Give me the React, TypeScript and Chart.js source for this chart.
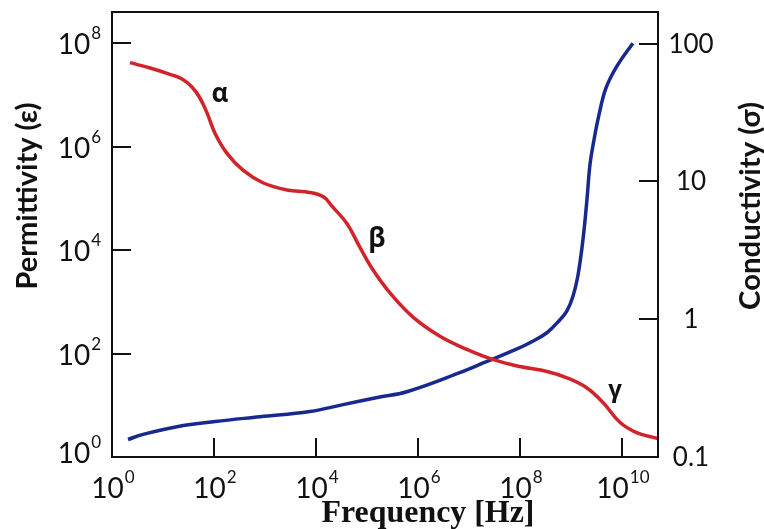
import React, { useEffect, useRef } from "react";
import { Chart, registerables } from "chart.js";

Chart.register(...registerables);

// ---- data ----
const permFreq = [2.25, 5.6, 13.7, 23.6, 37, 53, 73, 105, 180, 370, 910, 2700, 7600, 1.4e4, 2.1e4, 4.1e4, 7.2e4, 1.3e5, 2.8e5, 7.9e5, 2.7e6, 9.1e6, 3.0e7, 1e8, 3.4e8, 8.3e8, 2.0e9, 4.3e9, 9.1e9, 1.95e10, 4.1e10, 5.0e10];
const permittivity = [4.2e7, 3.3e7, 2.5e7, 2.03e7, 1.42e7, 8.7e6, 4.5e6, 1.8e6, 7.4e5, 3.5e5, 2.0e5, 1.45e5, 1.3e5, 1.07e5, 6.9e4, 3.2e4, 1.15e4, 4.2e3, 1.5e3, 510, 215, 120, 76, 56, 45, 34, 22, 11.2, 4.7, 2.95, 2.4, 2.3];

const condFreq = [2.06, 4.06, 18.8, 105, 795, 7600, 3.4e4, 1.6e5, 6.3e5, 6.6e6, 2.2e7, 7.3e7, 1.57e8, 3.38e8, 6.09e8, 8.35e8, 1.09e9, 1.37e9, 1.72e9, 2.06e9, 2.36e9, 2.83e9, 3.54e9, 4.86e9, 7.98e9, 1.64e10];
const conductivity = [0.134, 0.146, 0.166, 0.181, 0.196, 0.214, 0.24, 0.27, 0.299, 0.409, 0.492, 0.591, 0.676, 0.798, 0.992, 1.152, 1.456, 2.07, 3.77, 7.35, 13.2, 20.0, 30.3, 47.6, 68.8, 101];

const xTickExponents = [0, 2, 4, 6, 8, 10];
const leftTickExponents = [0, 2, 4, 6, 8];
const rightTickValues = [0.1, 1, 10, 100];
const rightTickLabels = ["0.1", "1", "10", "100"];

const regionLabels = ["α", "β", "γ"];
const regionFreq = [131, 1.57e5, 7.3e9];
const regionPerm = [7.3e6, 1.16e4, 14.6];

const xTitle = "Frequency [Hz]";
const leftTitle = "Permittivity (ε)";
const rightTitle = "Conductivity (σ)";

const RED = "#d2232a";
const BLUE = "#17298e";
const INK = "#111111";
const SANS = "Lato, 'Open Sans', sans-serif";
const GREEK = "'Open Sans', 'DejaVu Sans', sans-serif";

function drawPower(ctx: CanvasRenderingContext2D, exp: number, anchorX: number, baseline: number, size: number, align: "center" | "right") {
  const main = "10";
  const sup = String(exp);
  const supSize = Math.round(size * 0.62);
  ctx.textAlign = "left";
  ctx.textBaseline = "alphabetic";
  ctx.font = `${size}px ${SANS}`;
  const wMain = ctx.measureText(main).width;
  ctx.font = `${supSize}px ${SANS}`;
  const wSup = ctx.measureText(sup).width;
  const total = wMain + 1 + wSup;
  const start = align === "right" ? anchorX - total : anchorX - total / 2;
  ctx.font = `${size}px ${SANS}`;
  ctx.fillText(main, start, baseline);
  ctx.font = `${supSize}px ${SANS}`;
  ctx.fillText(sup, start + wMain + 1, baseline - size * 0.53);
}

function fitFont(ctx: CanvasRenderingContext2D, text: string, weight: string, family: string, target: number) {
  ctx.font = `${weight} 30px ${family}`;
  const w = ctx.measureText(text).width;
  const size = (30 * target) / w;
  return `${weight} ${size.toFixed(2)}px ${family}`;
}

const overlay = {
  id: "overlay",
  afterDatasetsDraw(chart: any) {
    const { ctx, chartArea: a, scales } = chart;
    const sx = scales.x;
    const sy = scales.y;
    const sr = scales.y1;
    ctx.save();
    ctx.strokeStyle = INK;
    ctx.fillStyle = INK;
    ctx.lineWidth = 2;
    ctx.lineCap = "butt";
    // frame
    ctx.strokeRect(a.left, a.top, a.right - a.left, a.bottom - a.top);
    const TL = 19;
    ctx.beginPath();
    xTickExponents.forEach((e) => {
      const px = Math.round(sx.getPixelForValue(Math.pow(10, e)));
      ctx.moveTo(px, a.bottom);
      ctx.lineTo(px, a.bottom - TL);
    });
    leftTickExponents.forEach((e) => {
      const py = Math.round(sy.getPixelForValue(Math.pow(10, e)));
      ctx.moveTo(a.left, py);
      ctx.lineTo(a.left + TL, py);
    });
    rightTickValues.forEach((v) => {
      const py = Math.round(sr.getPixelForValue(v));
      ctx.moveTo(a.right, py);
      ctx.lineTo(a.right - TL, py);
    });
    ctx.stroke();

    // tick labels
    xTickExponents.forEach((e) => {
      const px = sx.getPixelForValue(Math.pow(10, e));
      drawPower(ctx, e, px + 1, a.bottom + 41, 28, "center");
    });
    leftTickExponents.forEach((e) => {
      const py = sy.getPixelForValue(Math.pow(10, e));
      const base = e === 0 ? py + 6 : py + 11;
      drawPower(ctx, e, a.left - 11, base, 28, "right");
    });
    ctx.font = `26px ${SANS}`;
    ctx.textAlign = "center";
    ctx.textBaseline = "alphabetic";
    rightTickValues.forEach((v, i) => {
      const py = sr.getPixelForValue(v);
      ctx.fillText(rightTickLabels[i], a.right + 33, py + 9);
    });

    // region annotations
    ctx.textAlign = "center";
    regionLabels.forEach((t, i) => {
      ctx.font = `bold ${i === 2 ? 24 : 26}px ${GREEK}`;
      ctx.fillText(t, sx.getPixelForValue(regionFreq[i]), sy.getPixelForValue(regionPerm[i]));
    });

    // axis titles
    ctx.font = fitFont(ctx, xTitle, "bold", "'Liberation Serif', 'Times New Roman', serif", 213);
    ctx.textAlign = "center";
    ctx.fillText(xTitle, 428, 522);

    ctx.save();
    ctx.font = fitFont(ctx, leftTitle, "bold", SANS, 187);
    ctx.translate(37, 196);
    ctx.rotate(-Math.PI / 2);
    ctx.textAlign = "center";
    ctx.fillText(leftTitle, 0, 0);
    ctx.restore();

    ctx.save();
    ctx.font = fitFont(ctx, rightTitle, "bold", SANS, 208);
    ctx.translate(760, 206);
    ctx.rotate(-Math.PI / 2);
    ctx.textAlign = "center";
    ctx.fillText(rightTitle, 0, 0);
    ctx.restore();

    ctx.restore();
  },
};

export default function App() {
  const ref = useRef<HTMLCanvasElement | null>(null);
  useEffect(() => {
    if (!ref.current) return;
    const chart = new Chart(ref.current, {
      type: "line",
      data: {
        datasets: [
          {
            label: "Permittivity",
            data: permFreq.map((x, i) => ({ x, y: permittivity[i] })),
            borderColor: RED,
            borderWidth: 3.5,
            pointRadius: 0,
            tension: 0.4,
            yAxisID: "y",
            fill: false,
          },
          {
            label: "Conductivity",
            data: condFreq.map((x, i) => ({ x, y: conductivity[i] })),
            borderColor: BLUE,
            borderWidth: 3.5,
            pointRadius: 0,
            tension: 0.4,
            yAxisID: "y1",
            fill: false,
          },
        ],
      },
      options: {
        responsive: false,
        animation: false,
        devicePixelRatio: 1,
        layout: { padding: { top: 12, left: 0, right: 0, bottom: 0 } },
        plugins: { legend: { display: false }, tooltip: { enabled: false } },
        scales: {
          x: {
            type: "logarithmic",
            position: "bottom",
            min: 1,
            max: 5.1e10,
            ticks: { display: false },
            grid: { display: false },
            border: { display: false },
            afterFit: (s: any) => { s.height = 72; },
          },
          y: {
            type: "logarithmic",
            position: "left",
            min: 1,
            max: 4e8,
            ticks: { display: false },
            grid: { display: false },
            border: { display: false },
            afterFit: (s: any) => { s.width = 112; },
          },
          y1: {
            type: "logarithmic",
            position: "right",
            min: 0.1,
            max: 170,
            ticks: { display: false },
            grid: { display: false },
            border: { display: false },
            afterFit: (s: any) => { s.width = 106; },
          },
        },
      } as any,
      plugins: [overlay],
    });
    return () => chart.destroy();
  }, []);
  return (
    <div style={{ position: "fixed", left: 0, top: 0, width: 764, height: 529, background: "#fff" }}>
      <canvas ref={ref} width={764} height={529} style={{ display: "block" }} />
    </div>
  );
}
